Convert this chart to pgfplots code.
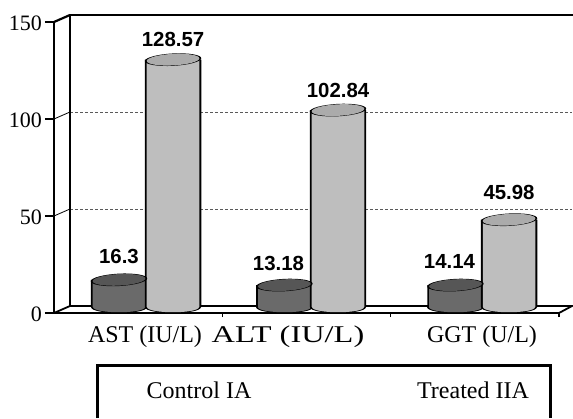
\documentclass[border=0pt]{standalone}
\usepackage{fontspec}
\setmainfont{Liberation Serif}
\newfontfamily\valfont{Liberation Sans}
\usepackage{pgfplots}
\usepackage{pgfplotstable}
\pgfplotsset{compat=1.18}

\definecolor{darkbody}{HTML}{6A6A6A}
\definecolor{darkcap}{HTML}{565656}
\definecolor{lightbody}{HTML}{BEBEBE}
\definecolor{lightcap}{HTML}{ABABAB}

% x: 0,1,2 are the group centres, bars sit either side
% y: height as drawn in the picture, label: value as printed above it
\pgfplotstableread{
x      y     base label  dx dy
-0.161 14.0  0    16.3   0  16
0.824  11.3  0    13.18  -6 15
1.842  11.3  0    14.14  -6 17
}\controlia
\pgfplotstableread{
x      y     base label  dx dy
0.161  127.5 0    128.57 0  13
1.143  101.5 0    102.84 0  13
2.161  45.0  0    45.98  0  20
}\treatediia

% cylinder top, sized by mark size
\pgfdeclareplotmark{cylend}{%
  \pgfpathellipse{\pgfpointorigin}
    {\pgfqpoint{\pgfplotmarksize}{0.05\pgfplotmarksize}}
    {\pgfqpoint{0pt}{0.22\pgfplotmarksize}}%
  \pgfusepathqfill}
% cylinder bottom, lower half only
\pgfdeclareplotmark{cylbase}{%
  \pgfpathmoveto{\pgfqpoint{-\pgfplotmarksize}{0pt}}%
  \pgfpathcurveto{\pgfqpoint{-\pgfplotmarksize}{-0.267\pgfplotmarksize}}
    {\pgfqpoint{\pgfplotmarksize}{-0.267\pgfplotmarksize}}
    {\pgfqpoint{\pgfplotmarksize}{0pt}}%
  \pgfpathclose
  \pgfusepathqfill}

\newcommand{\cylinder}[3]{%
  \addplot[ybar,bar width=56.4pt,bar shift=0pt,fill=black,draw=none] table[x=x,y=y]{#1};
  \addplot[only marks,mark=cylbase,mark size=28.2pt,mark options={fill=black,draw=none}] table[x=x,y=base]{#1};
  \addplot[only marks,mark=cylend,mark size=28.2pt,mark options={fill=black,draw=none}] table[x=x,y=y]{#1};
  \addplot[ybar,bar width=52.6pt,bar shift=0pt,fill=#2,draw=none] table[x=x,y=y]{#1};
  \addplot[only marks,mark=cylbase,mark size=26.3pt,mark options={fill=#2,draw=none}] table[x=x,y=base]{#1};
  \addplot[only marks,mark=cylend,mark size=26.3pt,mark options={fill=#3,draw=none},
    visualization depends on={\thisrow{dx} \as \labdx},
    visualization depends on={\thisrow{dy} \as \labdy},
    point meta=explicit symbolic,
    nodes near coords,
    every node near coord/.append style={anchor=base,inner sep=0pt,xshift=\labdx pt,yshift=\labdy pt,
      text=black,font=\valfont\fontsize{20.4}{20.4}\selectfont\bfseries}]
    table[x=x,y=y,meta=label]{#1};
}

\begin{document}
\begin{tikzpicture}[x=1pt,y=1pt]
\useasboundingbox (0,0) rectangle (573,418);

% back wall with the dashed grid
\begin{axis}[at={(70pt,112pt)},anchor=origin,scale only axis,width=502pt,height=291pt,
    xmin=0,xmax=3,ymin=0,ymax=150,
    xtick=\empty,ytick={50,100},yticklabels={},
    ymajorgrids,grid style={densely dashed,black!65,line width=0.7pt},
    axis line style={draw=none},tick style={draw=none}]
\end{axis}
\draw[line width=2.2pt] (70,112) -- (70,403) -- (573,403);
\draw[line width=1.8pt] (70,112) -- (572,112) -- (559,105);
\draw[line width=2.2pt] (54,396) -- (70,403);
\draw[line width=0.8pt] (54,299) -- (70,306);
\draw[line width=0.8pt] (54,202) -- (70,209);
\draw[line width=1.8pt] (54,105) -- (70,112);

% front axis with the scale
\begin{axis}[at={(54pt,105pt)},anchor=origin,scale only axis,width=505pt,height=291pt,
    xmin=0,xmax=3,ymin=0,ymax=150,clip=false,
    axis x line=bottom,axis y line=left,
    x axis line style={-,line width=1.6pt},
    y axis line style={-,line width=2.6pt},
    xtick={1,2,3},xticklabels={},
    ytick={0,50,100,150},
    tick align=outside,
    major tick length=9pt,
    ytick style={black,line width=1.8pt},
    xtick style={black,line width=1.2pt,/pgfplots/major tick length=4pt},
    /pgf/number format/assume math mode=true,
    yticklabel style={font=\fontsize{22}{22}\selectfont,inner sep=0pt,xshift=-3pt,yshift=-1pt}]
\end{axis}

% bars, 8 px right of and 6 px above the front plane
\begin{axis}[at={(146pt,111pt)},anchor=origin,scale only axis,width=521pt,height=291pt,
    x=168pt,
    xmin=-0.6,xmax=2.5,ymin=0,ymax=150,clip=false,
    axis line style={draw=none},tick style={draw=none},
    ytick=\empty,
    xtick={-0.006,0.845,2},
    xticklabels={AST (IU/L),\scalebox{1.35}[1]{ALT (IU/L)},GGT (U/L)},
    xticklabel style={font=\fontsize{24}{24}\selectfont,inner sep=0pt,yshift=-19pt}]
\cylinder{\controlia}{darkbody}{darkcap}
\cylinder{\treatediia}{lightbody}{lightcap}
\end{axis}

% legend box, runs off the bottom of the page
\draw[line width=3pt] (97,0) -- (97,53) -- (550,53) -- (550,0);
\node[anchor=base,inner sep=0pt,font=\fontsize{24}{24}\selectfont] at (199,20) {Control IA};
\node[anchor=base,inner sep=0pt,font=\fontsize{24}{24}\selectfont] at (473,20) {Treated IIA};
\end{tikzpicture}
\end{document}
